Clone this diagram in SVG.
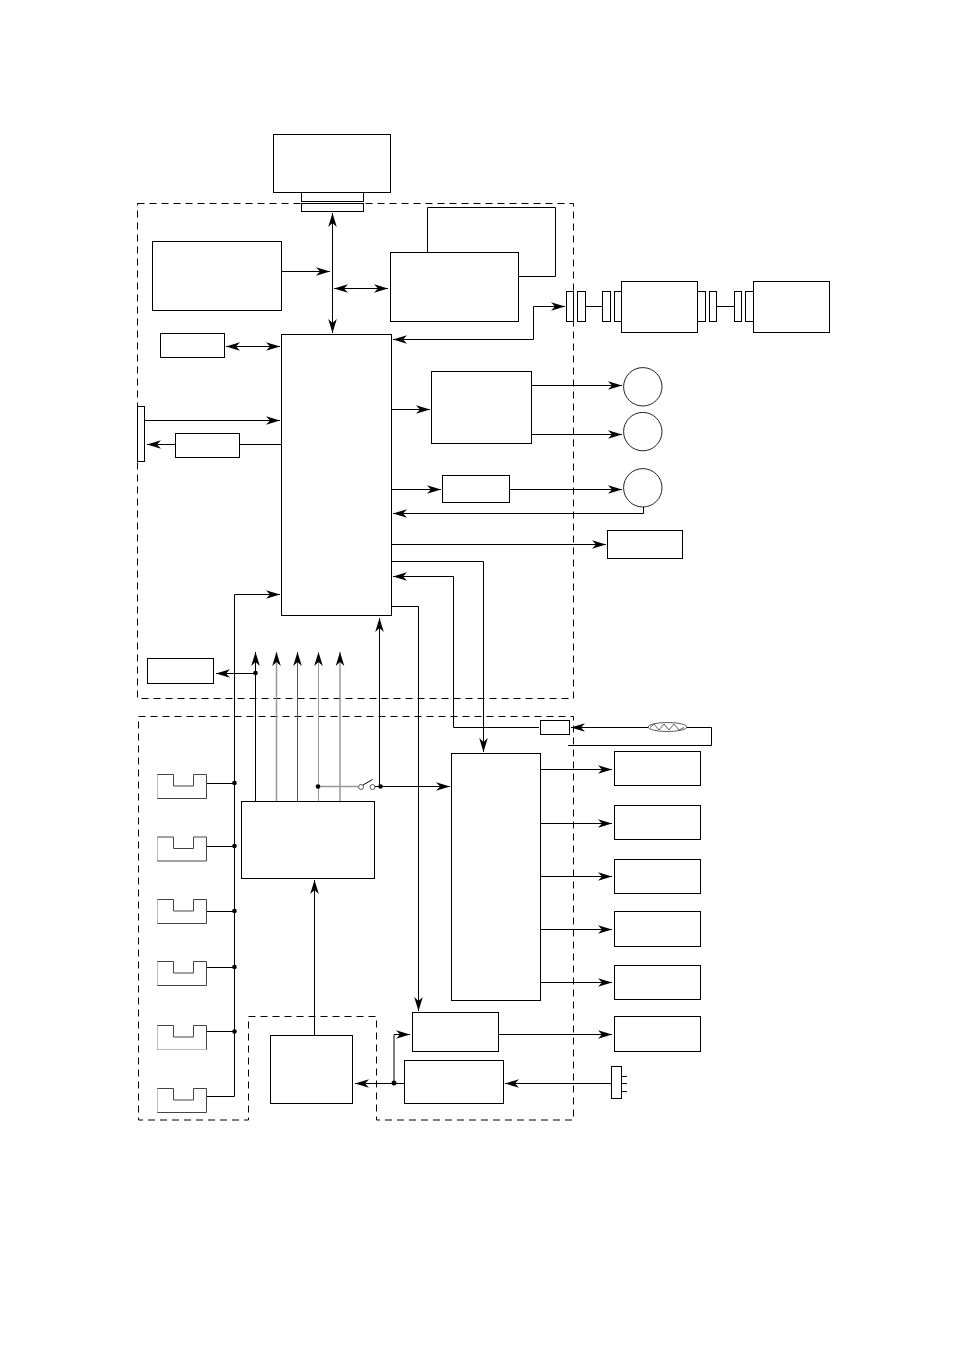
<svg xmlns="http://www.w3.org/2000/svg" width="954" height="1348" viewBox="0 0 954 1348">
  <style>
    .box { fill: #fff; stroke: #000; stroke-width: 1; }
    .wire { fill: none; stroke: #000; stroke-width: 1; }
    .end { marker-end: url(#head); }
    .both { marker-start: url(#headBack); marker-end: url(#head); }
    .zone { fill: none; stroke: #000; stroke-width: 1; stroke-dasharray: 7 5; }
    .dot { fill: #000; }
    .open { fill: #fff; stroke: #333; stroke-width: 0.8; }
    .slot { fill: #fff; stroke: #444; stroke-width: 1; }
    .edge { fill: none; stroke: #bbb; stroke-width: 1; }
  </style>
  <defs>
    <marker id="head" markerUnits="userSpaceOnUse" markerWidth="15" markerHeight="9" refX="14" refY="4.5" orient="auto" overflow="visible">
      <path d="M0,0.2 L14,4.5 L0,8.8 L4,4.5 Z" fill="#000"/>
    </marker>
    <marker id="headBack" markerUnits="userSpaceOnUse" markerWidth="15" markerHeight="9" refX="0" refY="4.5" orient="auto" overflow="visible">
      <path d="M14,0.2 L0,4.5 L14,8.8 L10,4.5 Z" fill="#000"/>
    </marker>
    <path id="slot" d="M157.5,0 H173.5 V11.5 H193.5 V0 H206.5 V24 H157.5 Z"/>
  </defs>
  <rect width="954" height="1348" fill="#fff"/>

  <!-- dashed zones -->
  <g id="zones">
    <rect id="zone-upper" class="zone" x="137.5" y="203.5" width="436" height="495"/>
    <path id="zone-lower" class="zone" d="M138.5,716.5 H573.5 V1120 H376.5 V1016.5 H248.5 V1120 H138.5 Z"/>
  </g>

  <!-- connectors -->
  <g id="connectors">
    <path class="wire both" d="M332.5,213 V333"/>
    <path class="wire end" d="M282,271.5 H330"/>
    <path class="wire both" d="M334,288.5 H388"/>
    <path class="wire both" d="M226,346.5 H280"/>
    <path class="wire end" d="M533.5,306.5 V339.5 H393"/>
    <path class="wire end" d="M533.5,306.5 H565"/>
    <path class="wire" d="M586,306.5 H602"/>
    <path class="wire" d="M717,306.5 H734"/>
    <path class="wire end" d="M392,409.5 H430"/>
    <path class="wire end" d="M532,385.5 H622"/>
    <path class="wire end" d="M532,434.5 H622"/>
    <path class="wire end" d="M392,489.5 H441"/>
    <path class="wire end" d="M510,489.5 H622"/>
    <path class="wire end" d="M643.5,507 V513.5 H393"/>
    <path class="wire end" d="M392,544.5 H606"/>
    <path class="wire end" d="M392,561.5 H483.5 V752"/>
    <path class="wire end" d="M539,727.5 H453.5 V576.5 H393"/>
    <path class="wire end" d="M392,606.5 H418.5 V1011"/>
    <path class="wire end" d="M145,420.5 H280"/>
    <path class="wire" d="M240,444.5 H281"/>
    <path class="wire end" d="M175,444.5 H147"/>
    <path class="wire end" d="M234.5,1096.5 V594.5 H280"/>
    <path class="wire" d="M207,783.5 H234.5"/>
    <path class="wire" d="M207,846.5 H234.5"/>
    <path class="wire" d="M207,911.5 H234.5"/>
    <path class="wire" d="M207,967.5 H234.5"/>
    <path class="wire" d="M207,1031.5 H234.5"/>
    <path class="wire" d="M207,1096.5 H234.5"/>
    <path class="wire end" d="M255.5,673.5 H216"/>
    <path class="wire end" d="M255.5,801 V652"/>
    <path fill="none" stroke="#999" stroke-width="1.5" marker-end="url(#head)" d="M276.5,801 V652"/>
    <path fill="none" stroke="#555" stroke-width="1" marker-end="url(#head)" d="M297.5,801 V652"/>
    <path fill="none" stroke="#999" stroke-width="1" marker-end="url(#head)" d="M318.5,801 V652"/>
    <path fill="none" stroke="#999" stroke-width="1.5" marker-end="url(#head)" d="M340,801 V652"/>
    <path fill="none" stroke="#999" stroke-width="1.5" d="M318.5,786.5 H358"/>
    <path class="wire end" d="M379.5,786.5 V618"/>
    <path class="wire end" d="M375,786.5 H450"/>
    <path class="wire" d="M363,785 L372.5,779.5" stroke-width="0.8"/>
    <path class="wire end" d="M541,769.5 H612"/>
    <path class="wire end" d="M541,823.5 H612"/>
    <path class="wire end" d="M541,876.5 H612"/>
    <path class="wire end" d="M541,929.5 H612"/>
    <path class="wire end" d="M541,982.5 H612"/>
    <path class="wire end" d="M499,1034.5 H612"/>
    <path class="wire end" d="M611,1083.5 H505"/>
    <path class="wire end" d="M404,1083.5 H355"/>
    <path class="wire end" d="M394,1083.5 V1034.5 H410"/>
    <path class="wire end" d="M314.5,1035 V880"/>
    <path class="wire end" d="M711.5,727.5 H571"/>
    <path class="wire" d="M711.5,727.5 V745.5 H568"/>
    <circle class="dot" cx="255.5" cy="673" r="2.3"/>
    <circle class="dot" cx="234.5" cy="783" r="2.3"/>
    <circle class="dot" cx="234.5" cy="846" r="2.3"/>
    <circle class="dot" cx="234.5" cy="911" r="2.3"/>
    <circle class="dot" cx="234.5" cy="967" r="2.3"/>
    <circle class="dot" cx="234.5" cy="1031.5" r="2.3"/>
    <circle class="dot" cx="318" cy="786.5" r="2.3"/>
    <circle class="dot" cx="380.5" cy="786.5" r="2.3"/>
    <circle class="dot" cx="394" cy="1083" r="2.5"/>
    <circle class="open" cx="361" cy="787" r="2.5"/>
    <circle class="open" cx="372.5" cy="787" r="2.5"/>
  </g>

  <!-- upper zone nodes -->
  <g id="top-unit">
    <rect class="box" x="273.5" y="134.5" width="117" height="58"/>
    <rect class="box" x="301.5" y="192.5" width="62" height="9"/>
    <rect class="box" x="301.5" y="203.5" width="62" height="8"/>
  </g>
  <g id="source-block"><rect class="box" x="152.5" y="241.5" width="129" height="69"/></g>
  <g id="small-block"><rect class="box" x="160.5" y="333.5" width="64" height="24"/></g>
  <g id="memory-block">
    <path class="wire" d="M427.5,252.5 V207.5 H555.5 V276.5 H518.5"/>
    <rect class="box" x="390.5" y="252.5" width="128" height="69"/>
  </g>
  <g id="controller"><rect class="box" x="281.5" y="334.5" width="110" height="281"/></g>
  <g id="edge-panel"><rect class="box" x="137.5" y="406.5" width="7" height="55"/></g>
  <g id="panel-driver"><rect class="box" x="175.5" y="433.5" width="64" height="24"/></g>
  <g id="lower-left-block"><rect class="box" x="147.5" y="658.5" width="66" height="25"/></g>
  <g id="motor-driver"><rect class="box" x="431.5" y="371.5" width="100" height="72"/></g>
  <g id="encoder-driver"><rect class="box" x="442.5" y="475.5" width="67" height="27"/></g>
  <g id="motor-a"><circle cx="642.8" cy="386.8" r="19.2" fill="#fff" stroke="#222"/></g>
  <g id="motor-b"><circle cx="642.8" cy="431.6" r="19.2" fill="#fff" stroke="#222"/></g>
  <g id="motor-c"><circle cx="642.8" cy="487.8" r="19.2" fill="#fff" stroke="#222"/></g>
  <g id="side-block"><rect class="box" x="607.5" y="530.5" width="75" height="28"/></g>

  <!-- serial chain -->
  <g id="chain-plugs">
    <rect class="box" x="566.5" y="291.5" width="7" height="30"/>
    <rect class="box" x="577.5" y="291.5" width="8" height="30"/>
    <rect class="box" x="602.5" y="291.5" width="8" height="30"/>
    <rect class="box" x="614.5" y="291.5" width="7" height="30"/>
    <rect class="box" x="697.5" y="291.5" width="8" height="30"/>
    <rect class="box" x="709.5" y="291.5" width="7" height="30"/>
    <rect class="box" x="734.5" y="291.5" width="7" height="30"/>
    <rect class="box" x="745.5" y="291.5" width="8" height="30"/>
  </g>
  <g id="chain-a"><rect class="box" x="621.5" y="281.5" width="76" height="51"/></g>
  <g id="chain-b"><rect class="box" x="753.5" y="281.5" width="76" height="51"/></g>

  <!-- slotted sensors -->
  <g id="sensor-1"><use href="#slot" class="slot" y="774.5"/><path class="edge" d="M157.5,775 V798"/></g>
  <g id="sensor-2"><use href="#slot" class="slot" y="837"/><path class="edge" d="M157.5,837.5 V860.5"/></g>
  <g id="sensor-3"><use href="#slot" class="slot" y="899.5"/><path class="edge" d="M157.5,900 V923"/></g>
  <g id="sensor-4"><use href="#slot" class="slot" y="961.5"/><path class="edge" d="M157.5,962 V985"/></g>
  <g id="sensor-5"><use href="#slot" class="slot" y="1025.5"/><path class="edge" d="M157.5,1026 V1049.5 H206.5"/></g>
  <g id="sensor-6"><use href="#slot" class="slot" y="1088.5"/><path class="edge" d="M157.5,1089 V1112"/></g>

  <!-- lower zone nodes -->
  <g id="sensor-interface"><rect class="box" x="241.5" y="801.5" width="133" height="77"/></g>
  <g id="supply"><rect class="box" x="270.5" y="1035.5" width="82" height="68"/></g>
  <g id="output-driver"><rect class="box" x="451.5" y="753.5" width="89" height="247"/></g>
  <g id="aux-driver"><rect class="box" x="412.5" y="1012.5" width="86" height="39"/></g>
  <g id="input-filter"><rect class="box" x="404.5" y="1060.5" width="99" height="43"/></g>
  <g id="inlet">
    <rect class="box" x="611.5" y="1066.5" width="10" height="32"/>
    <path class="wire" d="M621.5,1076.5 H627 M621.5,1083.5 H627 M621.5,1091.5 H627"/>
  </g>
  <g id="relay-box"><rect class="box" x="540.5" y="720.5" width="29" height="14"/></g>
  <g id="heater">
    <ellipse cx="667.5" cy="727" rx="19.5" ry="4.5" fill="#fff" stroke="#333" stroke-width="0.8"/>
    <path d="M650,727.5 L654,724 L659,730 L664,724 L669,730 L674,724 L679,730 L684,727.5" fill="none" stroke="#333" stroke-width="0.8"/>
  </g>
  <g id="load-1"><rect class="box" x="614.5" y="751.5" width="86" height="34"/></g>
  <g id="load-2"><rect class="box" x="614.5" y="805.5" width="86" height="34"/></g>
  <g id="load-3"><rect class="box" x="614.5" y="859.5" width="86" height="34"/></g>
  <g id="load-4"><rect class="box" x="614.5" y="911.5" width="86" height="35"/></g>
  <g id="load-5"><rect class="box" x="614.5" y="965.5" width="86" height="34"/></g>
  <g id="load-6"><rect class="box" x="614.5" y="1016.5" width="86" height="35"/></g>
</svg>
